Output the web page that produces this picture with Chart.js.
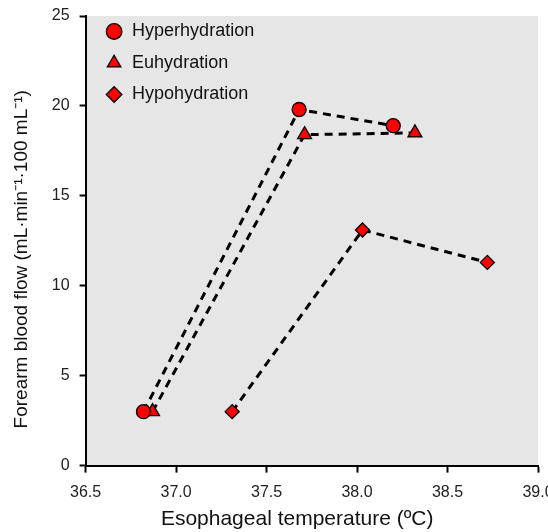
<!DOCTYPE html>
<html>
<head>
<meta charset="utf-8">
<script src="https://cdn.jsdelivr.net/npm/chart.js@4.4.0/dist/chart.umd.min.js"></script>
<style>
  html, body { margin: 0; padding: 0; background: #fff; }
  #wrap { width: 548px; height: 532px; }
</style>
</head>
<body>
<div id="wrap"><canvas id="chartOne" width="548" height="532"></canvas></div>
<script>
// Datos
const seriesNames = ["Hyperhydration", "Euhydration", "Hypohydration"];
const pointStyles = ["circle", "triangle", "rectRot"];

const hyperTemp = [36.82, 37.68, 38.20];
const hyperFlow = [3.0, 19.8, 18.9];

const euTemp = [36.87, 37.71, 38.32];
const euFlow = [3.0, 18.4, 18.5];

const hypoTemp = [37.31, 38.03, 38.72];
const hypoFlow = [3.0, 13.1, 11.3];

const xTicks = [36.5, 37.0, 37.5, 38.0, 38.5, 39.0];
const yTicks = [0, 5, 10, 15, 20, 25];

// espacios al final para descentrar los títulos como en la figura
const tituloX = "Esophageal temperature (ºC)" + "\u00A0".repeat(5);
const tituloY = "Forearm blood flow (mL·min⁻¹·100 mL⁻¹)" + "\u00A0".repeat(7);

function pares(xs, ys) {
    return xs.map((x, i) => ({ x: x, y: ys[i] }));
}

const allTemps = [hyperTemp, euTemp, hypoTemp];
const allFlows = [hyperFlow, euFlow, hypoFlow];

const datasets = seriesNames.map((name, i) => ({
    label: name,
    data: pares(allTemps[i], allFlows[i]),
    showLine: true,
    borderColor: "#000",
    borderWidth: 3,
    borderDash: [8, 6],
    pointStyle: pointStyles[i],
    pointRadius: i === 1 ? 8 : 7,
    pointBackgroundColor: "#ff0000",
    pointBorderColor: "#000",
    pointBorderWidth: 1.3,
}));

// fondo gris del área de la gráfica
const fondoGris = {
    id: "fondoGris",
    beforeDraw(chart) {
        const { ctx, chartArea } = chart;
        ctx.save();
        ctx.fillStyle = "#e6e6e6";
        ctx.fillRect(chartArea.left, chartArea.top, chartArea.right - chartArea.left, chartArea.bottom - chartArea.top);
        ctx.restore();
    },
};

// mover la leyenda un poco hacia dentro
const moverLeyenda = {
    id: "moverLeyenda",
    afterLayout(chart) {
        const lg = chart.legend;
        const dx = 6, dy = 9;
        lg.left += dx; lg.right += dx;
        lg.top += dy; lg.bottom += dy;
    },
};

Chart.defaults.font.family = "'Liberation Sans', Arial, sans-serif";
Chart.defaults.color = "#222";

const ctx1 = document.getElementById("chartOne").getContext("2d");
const grafica = new Chart(ctx1, {
    type: "scatter",
    data: { datasets: datasets },
    options: {
        responsive: false,
        animation: false,
        layout: { padding: { top: 0, right: 10, left: 0, bottom: 0 } },
        plugins: {
            legend: {
                position: "chartArea",
                align: "start",
                labels: {
                    usePointStyle: true,
                    boxHeight: 11,
                    font: { size: 18 },
                    color: "#111",
                    padding: 13.5,
                },
            },
            tooltip: { enabled: false },
        },
        scales: {
            x: {
                type: "linear",
                min: 36.5,
                max: 39.0,
                afterBuildTicks: (axis) => { axis.ticks = xTicks.map((v) => ({ value: v })); },
                afterFit: (axis) => { axis.paddingRight = 10; axis.height -= 10; },
                ticks: {
                    font: { size: 16 },
                    padding: 10,
                    callback: (v) => Number(v).toFixed(1),
                },
                grid: { drawOnChartArea: false, tickLength: 7, tickWidth: 2, color: "#000" },
                border: { color: "#000", width: 2 },
                title: {
                    display: true,
                    text: tituloX,
                    font: { size: 21 },
                    color: "#111",
                    padding: { top: 5, bottom: 0 },
                },
            },
            y: {
                min: 0,
                max: 25,
                afterBuildTicks: (axis) => { axis.ticks = yTicks.map((v) => ({ value: v })); },
                afterFit: (axis) => { axis.paddingTop = 16; axis.width -= 11; },
                ticks: { font: { size: 16 }, padding: 10 },
                grid: { drawOnChartArea: false, tickLength: 6, tickWidth: 2, color: "#000" },
                border: { color: "#000", width: 2 },
                title: {
                    display: true,
                    text: tituloY,
                    font: { size: 19 },
                    color: "#111",
                    padding: { top: 10, bottom: 20 },
                },
            },
        },
    },
    plugins: [fondoGris, moverLeyenda],
});
</script>
</body>
</html>
